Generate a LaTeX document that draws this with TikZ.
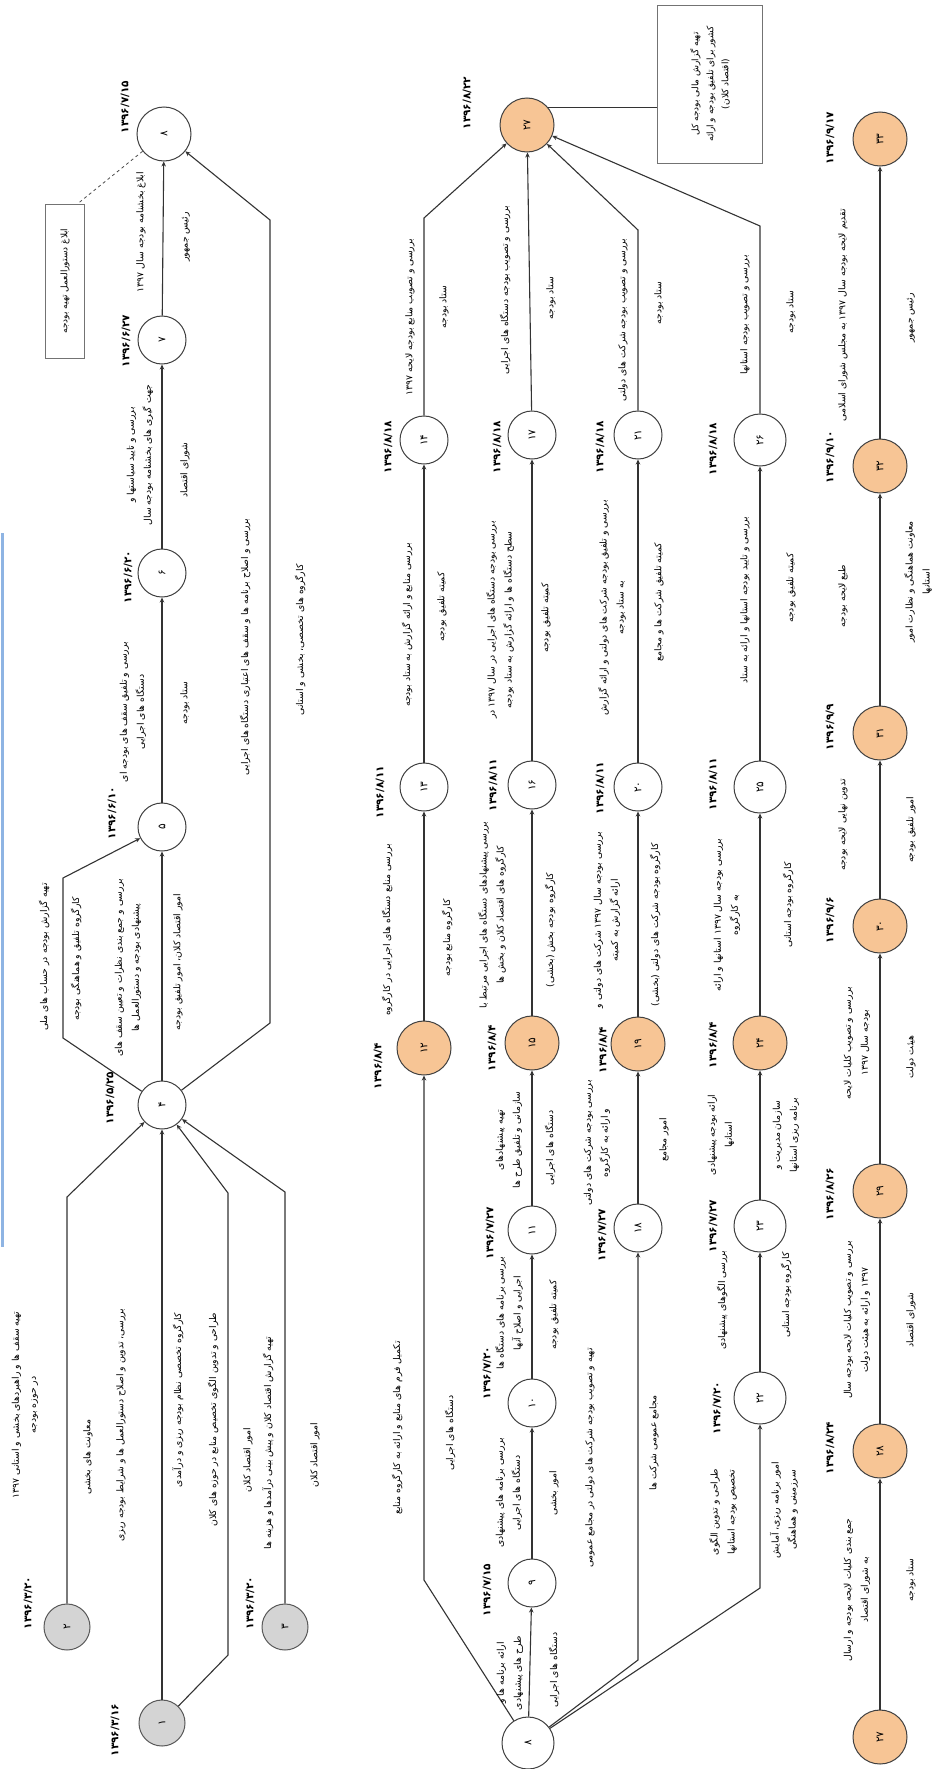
\documentclass[tikz,border=0pt]{standalone}
\usepackage{fontspec}
\usetikzlibrary{arrows.meta,calc}
\TeXXeTstate=1
\newfontfamily\fafont[Script=Arabic]{DejaVu Sans}
\newcommand{\fa}[1]{\beginR#1\endR}
\newcommand{\nm}[1]{\beginL#1\endL}
\definecolor{evorange}{HTML}{F7C595}
\definecolor{evgray}{HTML}{D4D4D4}
\definecolor{frameblue}{HTML}{8EB4E3}
\begin{document}
\begin{tikzpicture}[x=1pt,y=-1pt,
  ev/.style={circle,draw=black!75,line width=1pt,fill=white,minimum size=48pt,inner sep=0pt,rotate=90,font=\fafont\fontsize{10.5}{11}\selectfont},
  evo/.style={ev,fill=evorange,minimum size=54pt},
  evg/.style={ev,fill=evgray,minimum size=46pt,draw=black!65},
  lab/.style={rotate=90,align=center,inner sep=0pt,font=\fafont\fontsize{9.3}{17}\selectfont},
  dt/.style={rotate=90,inner sep=0pt,font=\fafont\bfseries\fontsize{10.5}{11}\selectfont},
  note/.style={draw=black!55,line width=0.6pt,rotate=90,align=center,inner sep=2pt,font=\fafont\fontsize{9}{15}\selectfont},
  flow/.style={draw=black!80,line width=1.1pt,-{Stealth[length=5pt,width=4.5pt]}}]

\fill[white] (0,0) rectangle (937,1769);
\useasboundingbox (0,0) rectangle (937,1769);
\draw[frameblue,line width=3pt] (2,533) -- (2,1247);

% ---------- events: first stage ----------
\node[evg] (n1) at (162,1723) {۱};
\node[evg] (n2) at (67,1627) {۲};
\node[evg] (n3) at (285,1627) {۳};
\node[ev] (n4) at (162,1105) {۴};
\node[ev] (n5) at (162,827) {۵};
\node[ev] (n6) at (162,573) {۶};
\node[ev] (n7) at (162,340) {۷};
\node[ev,minimum size=54pt] (n8) at (164,134) {۸};

% ---------- events: second stage ----------
\node[ev,minimum size=52pt] (n8b) at (528,1743) {۸};
\node[ev] (n9) at (532,1583) {۹};
\node[ev] (n10) at (532,1403) {۱۰};
\node[ev] (n11) at (532,1230) {۱۱};
\node[evo] (n15) at (532,1043) {۱۵};
\node[ev] (n16) at (532,785) {۱۶};
\node[ev] (n17) at (532,435) {۱۷};
\node[evo] (n27) at (527,125) {۲۷};
\node[evo] (n12) at (424,1048) {۱۲};
\node[ev] (n13) at (424,787) {۱۳};
\node[ev] (n14) at (424,440) {۱۴};
\node[ev] (n18) at (638,1228) {۱۸};
\node[evo] (n19) at (638,1044) {۱۹};
\node[ev] (n20) at (638,787) {۲۰};
\node[ev] (n21) at (638,435) {۲۱};
\node[ev,minimum size=52pt] (n22) at (760,1398) {۲۲};
\node[ev,minimum size=52pt] (n23) at (760,1226) {۲۳};
\node[evo] (n24) at (760,1043) {۲۴};
\node[ev,minimum size=52pt] (n25) at (760,787) {۲۵};
\node[ev,minimum size=52pt] (n26) at (760,440) {۲۶};

% ---------- events: third stage ----------
\node[evo] (n27b) at (880,1737) {۲۷};
\node[evo] (n28) at (880,1451) {۲۸};
\node[evo] (n29) at (880,1191) {۲۹};
\node[evo] (n30) at (880,926) {۳۰};
\node[evo] (n31) at (880,733) {۳۱};
\node[evo] (n32) at (880,466) {۳۲};
\node[evo] (n33) at (880,139) {۳۳};

% ---------- dates ----------
\node[dt] (d1) at (115,1730) {۱۳۹۶/۳/۱۶};
\node[dt] (d2) at (28,1603) {۱۳۹۶/۳/۲۰};
\node[dt] (d3) at (250,1603) {۱۳۹۶/۳/۲۰};
\node[dt] (d4) at (110,1098) {۱۳۹۶/۵/۲۵};
\node[dt] (d5) at (112,813) {۱۳۹۶/۶/۱۰};
\node[dt] (d6) at (128,577) {۱۳۹۶/۶/۲۰};
\node[dt] (d7) at (126,341) {۱۳۹۶/۶/۲۷};
\node[dt] (d8) at (125,107) {۱۳۹۶/۷/۱۵};
\node[dt] (d9) at (487,1590) {۱۳۹۶/۷/۱۵};
\node[dt] (d10) at (487,1373) {۱۳۹۶/۷/۲۰};
\node[dt] (d11) at (490,1233) {۱۳۹۶/۷/۲۷};
\node[dt] (d12) at (378,1066) {۱۳۹۶/۸/۴};
\node[dt] (d13) at (380,792) {۱۳۹۶/۸/۱۱};
\node[dt] (d14) at (388,447) {۱۳۹۶/۸/۱۸};
\node[dt] (d15) at (492,1048) {۱۳۹۶/۸/۴};
\node[dt] (d16) at (493,785) {۱۳۹۶/۸/۱۱};
\node[dt] (d17) at (497,447) {۱۳۹۶/۸/۱۸};
\node[dt] (d18) at (602,1235) {۱۳۹۶/۷/۲۷};
\node[dt] (d19) at (603,1050) {۱۳۹۶/۸/۴};
\node[dt] (d20) at (600,788) {۱۳۹۶/۸/۱۱};
\node[dt] (d21) at (600,447) {۱۳۹۶/۸/۱۸};
\node[dt] (d22) at (717,1408) {۱۳۹۶/۷/۲۰};
\node[dt] (d23) at (713,1226) {۱۳۹۶/۷/۲۷};
\node[dt] (d24) at (713,1045) {۱۳۹۶/۸/۴};
\node[dt] (d25) at (713,784) {۱۳۹۶/۸/۱۱};
\node[dt] (d26) at (713,449) {۱۳۹۶/۸/۱۸};
\node[dt] (d27) at (467,103) {۱۳۹۶/۸/۲۲};
\node[dt] (d28) at (830,1448) {۱۳۹۶/۸/۲۴};
\node[dt] (d29) at (830,1194) {۱۳۹۶/۸/۲۶};
\node[dt] (d30) at (830,920) {۱۳۹۶/۹/۶};
\node[dt] (d31) at (830,727) {۱۳۹۶/۹/۹};
\node[dt] (d32) at (830,457) {۱۳۹۶/۹/۱۰};
\node[dt] (d33) at (830,138) {۱۳۹۶/۹/۱۷};

% ---------- notes ----------
\node[note,minimum width=154pt,minimum height=39pt] (box8) at (65,281) {\fa{ابلاغ دستورالعمل تهیه بودجه}};
\node[note,minimum width=158pt,minimum height=105pt] (box27) at (710,84)
  {\fa{تهیه گزارش مالی بودجه کل}\\\fa{کشور برای تلفیق بودجه و ارائه}\\\fa{(اقتصاد کلان)}};

% ---------- bend points ----------
\coordinate (k1a) at (228,1655);
\coordinate (k1b) at (228,1193);
\coordinate (k2) at (67,1197);
\coordinate (k3) at (285,1192);
\coordinate (k45a) at (63,1038);
\coordinate (k45b) at (63,878);
\coordinate (k48a) at (270,1023);
\coordinate (k48b) at (270,220);
\coordinate (c12) at (424,1580);
\coordinate (c18) at (638,1660);
\coordinate (c22) at (760,1588);
\coordinate (c14) at (424,218);
\coordinate (c21) at (638,230);
\coordinate (c26) at (760,226);

% ---------- activities: first stage ----------
\draw[flow] (n1) -- (n4);
\draw[flow] (n1) -- (k1a) -- (k1b) -- (n4);
\draw[flow] (n2) -- (k2) -- (n4);
\draw[flow] (n3) -- (k3) -- (n4);
\draw[flow] (n4) -- (n5);
\draw[flow] (n4) -- (k45a) -- (k45b) -- (n5);
\draw[flow] (n4) -- (k48a) -- (k48b) -- (n8);
\draw[flow] (n5) -- (n6);
\draw[flow] (n6) -- (n7);
\draw[flow] (n7) -- (n8);
\draw[black!70,line width=0.8pt,dashed] (n8) -- ($(box8.south east)!0.18!(box8.north east)$);

% ---------- activities: second stage ----------
\draw[flow] (n8b) -- (c12) -- (n12);
\draw[flow] (n8b) -- (n9);
\draw[flow] (n8b) -- (c18) -- (n18);
\draw[flow] (n8b) -- (c22) -- (n22);
\draw[flow] (n9) -- (n10);
\draw[flow] (n10) -- (n11);
\draw[flow] (n11) -- (n15);
\draw[flow] (n15) -- (n16);
\draw[flow] (n16) -- (n17);
\draw[flow] (n17) -- (n27);
\draw[flow] (n12) -- (n13);
\draw[flow] (n13) -- (n14);
\draw[flow] (n14) -- (c14) -- (n27);
\draw[flow] (n18) -- (n19);
\draw[flow] (n19) -- (n20);
\draw[flow] (n20) -- (n21);
\draw[flow] (n21) -- (c21) -- (n27);
\draw[flow] (n22) -- (n23);
\draw[flow] (n23) -- (n24);
\draw[flow] (n24) -- (n25);
\draw[flow] (n25) -- (n26);
\draw[flow] (n26) -- (c26) -- (n27);
\draw[black!80,line width=1.1pt] (n27.-51) -- (n27.-51 -| box27.north);

% ---------- activities: third stage ----------
\draw[flow] (n27b) -- (n28);
\draw[flow] (n28) -- (n29);
\draw[flow] (n29) -- (n30);
\draw[flow] (n30) -- (n31);
\draw[flow] (n31) -- (n32);
\draw[flow] (n32) -- (n33);

% ---------- activity labels: first stage ----------
\node[lab] (t78a) at (141,232) {\fa{ابلاغ بخشنامه بودجه سال \nm{۱۳۹۷}}};
\node[lab] (t78b) at (186,237) {\fa{رئیس جمهور}};
\node[lab] (t67a) at (140,455) {\fa{بررسی و تایید سیاستها و}\\\fa{جهت گیری های بخشنامه بودجه سال}};
\node[lab] (t67b) at (185,470) {\fa{شورای اقتصاد}};
\node[lab] (t56a) at (133,712) {\fa{بررسی و تلفیق سقف های بودجه ای}\\\fa{دستگاه های اجرایی}};
\node[lab] (t56b) at (185,703) {\fa{ستاد بودجه}};
\node[lab] (t48a) at (245,647) {\fa{بررسی و اصلاح برنامه ها و سقف های اعتباری دستگاه های اجرایی}};
\node[lab] (t48b) at (300,640) {\fa{کارگروه های تخصصی، بخشی و استانی}};
\node[lab] (t45a) at (44,957) {\fa{تهیه گزارش بودجه در حساب های ملی}};
\node[lab] (t45b) at (76,959) {\fa{کارگروه تلفیق و هماهنگی بودجه}};
\node[lab] (t45c) at (128,968) {\fa{بررسی و جمع بندی نظرات و تعیین سقف های}\\\fa{پیشنهادی بودجه و دستورالعمل ها}};
\node[lab] (t45d) at (178,962) {\fa{امور اقتصاد کلان، امور تلفیق بودجه}};
\node[lab] (t24a) at (25,1405) {\fa{تهیه سقف ها و راهبردهای بخشی و استانی \nm{۱۳۹۷}}\\\fa{در حوزه بودجه}};
\node[lab] (t24b) at (88,1457) {\fa{معاونت های بخشی}};
\node[lab] (t14a) at (121,1425) {\fa{بررسی، تدوین و اصلاح دستورالعمل ها و شرایط بودجه ریزی}};
\node[lab] (t14b) at (178,1400) {\fa{کارگروه تخصصی نظام بودجه ریزی و درآمدی}};
\node[lab] (t14c) at (213,1420) {\fa{طراحی و تدوین الگوی تخصیص منابع در حوزه های کلان}};
\node[lab] (t14d) at (248,1460) {\fa{امور اقتصاد کلان}};
\node[lab] (t34a) at (268,1443) {\fa{تهیه گزارش اقتصاد کلان و پیش بینی درآمدها و هزینه ها}};
\node[lab] (t34b) at (315,1455) {\fa{امور اقتصاد کلان}};

% ---------- activity labels: second stage ----------
\node[lab] (u1a) at (397,1428) {\fa{تکمیل فرم های منابع و ارائه به کارگروه منابع}};
\node[lab] (u1b) at (450,1433) {\fa{دستگاه های اجرایی}};
\node[lab] (u2a) at (387,930) {\fa{بررسی منابع دستگاه های اجرایی در کارگروه}};
\node[lab] (u2b) at (447,938) {\fa{کارگروه منابع بودجه}};
\node[lab] (u3a) at (407,625) {\fa{بررسی منابع و ارائه گزارش به ستاد بودجه}};
\node[lab] (u3b) at (442,607) {\fa{کمیته تلفیق بودجه}};
\node[lab] (u4a) at (410,317) {\fa{بررسی و تصویب منابع بودجه لایحه \nm{۱۳۹۷}}};
\node[lab] (u4b) at (444,307) {\fa{ستاد بودجه}};
\node[lab] (v1a) at (510,1673) {\fa{ارائه برنامه ها و}\\\fa{طرح های پیشنهادی}};
\node[lab] (v1b) at (554,1670) {\fa{دستگاه های اجرایی}};
\node[lab] (v2a) at (509,1493) {\fa{بررسی برنامه های پیشنهادی}\\\fa{دستگاه های اجرایی}};
\node[lab] (v2b) at (554,1493) {\fa{امور بخشی}};
\node[lab] (v3a) at (509,1313) {\fa{بررسی برنامه های دستگاه ها}\\\fa{اجرایی و اصلاح آنها}};
\node[lab] (v3b) at (554,1315) {\fa{کمیته تلفیق بودجه}};
\node[lab] (v4a) at (509,1140) {\fa{تهیه پیشنهادهای}\\\fa{سازمانی و تلفیق طرح ها}};
\node[lab] (v4b) at (550,1148) {\fa{دستگاه های اجرایی}};
\node[lab] (v5a) at (492,915) {\fa{بررسی پیشنهادهای دستگاه های اجرایی مرتبط با}\\\fa{کارگروه های اقتصاد کلان و بخش ها}};
\node[lab] (v5b) at (550,930) {\fa{کارگروه بودجه بخش (بخشی)}};
\node[lab] (v6a) at (500,620) {\fa{بررسی بودجه دستگاه های اجرایی در سال \nm{۱۳۹۷} در}\\\fa{سطح دستگاه ها و ارائه گزارش به ستاد بودجه}};
\node[lab] (v6b) at (546,618) {\fa{کمیته تلفیق بودجه}};
\node[lab] (v7a) at (505,290) {\fa{بررسی و تصویب بودجه دستگاه های اجرایی}};
\node[lab] (v7b) at (551,298) {\fa{ستاد بودجه}};
\node[lab] (w1a) at (590,1458) {\fa{تهیه و تصویب بودجه شرکت های دولتی در مجامع عمومی}};
\node[lab] (w1b) at (654,1443) {\fa{مجامع عمومی شرکت ها}};
\node[lab] (w2a) at (597,1143) {\fa{بررسی بودجه شرکت های دولتی}\\\fa{و ارائه به کارگروه}};
\node[lab] (w2b) at (664,1140) {\fa{امور مجامع}};
\node[lab] (w3a) at (607,920) {\fa{بررسی بودجه سال \nm{۱۳۹۷} شرکت های دولتی و}\\\fa{ارائه گزارش به کمیته}};
\node[lab] (w3b) at (655,925) {\fa{کارگروه بودجه شرکت های دولتی (بخشی)}};
\node[lab] (w4a) at (612,608) {\fa{بررسی و تلفیق بودجه شرکت های دولتی و ارائه گزارش}\\\fa{به ستاد بودجه}};
\node[lab] (w4b) at (659,602) {\fa{کمیته تلفیق شرکت ها و مجامع}};
\node[lab] (w5a) at (623,320) {\fa{بررسی و تصویب بودجه شرکت های دولتی}};
\node[lab] (w5b) at (659,303) {\fa{ستاد بودجه}};
\node[lab] (x1a) at (723,1512) {\fa{طراحی و تدوین الگوی}\\\fa{تخصیص بودجه استانها}};
\node[lab] (x1b) at (784,1510) {\fa{امور برنامه ریزی، آمایش}\\\fa{سرزمینی و هماهنگی}};
\node[lab] (x2a) at (722,1300) {\fa{بررسی الگوهای پیشنهادی}};
\node[lab] (x2b) at (786,1295) {\fa{کارگروه بودجه استانی}};
\node[lab] (x3a) at (721,1135) {\fa{ارائه بودجه پیشنهادی}\\\fa{استانها}};
\node[lab] (x3b) at (786,1135) {\fa{سازمان مدیریت و}\\\fa{برنامه ریزی استانها}};
\node[lab] (x4a) at (727,915) {\fa{بررسی بودجه سال \nm{۱۳۹۷} استانها و ارائه}\\\fa{به کارگروه}};
\node[lab] (x4b) at (788,905) {\fa{کارگروه بودجه استانی}};
\node[lab] (x5a) at (745,600) {\fa{بررسی و تایید بودجه استانها و ارائه به ستاد}};
\node[lab] (x5b) at (791,588) {\fa{کمیته تلفیق بودجه}};
\node[lab] (x6a) at (745,315) {\fa{بررسی و تصویب بودجه استانها}};
\node[lab] (x6b) at (791,312) {\fa{ستاد بودجه}};

% ---------- activity labels: third stage ----------
\node[lab] (y1a) at (857,1590) {\fa{جمع بندی کلیات لایحه بودجه و ارسال}\\\fa{به شورای اقتصاد}};
\node[lab] (y1b) at (911,1580) {\fa{ستاد بودجه}};
\node[lab] (y2a) at (857,1320) {\fa{بررسی و تصویب کلیات لایحه بودجه سال}\\\fa{\nm{۱۳۹۷} و ارائه به هیئت دولت}};
\node[lab] (y2b) at (911,1320) {\fa{شورای اقتصاد}};
\node[lab] (y3a) at (857,1043) {\fa{بررسی و تصویب کلیات لایحه}\\\fa{بودجه سال \nm{۱۳۹۷}}};
\node[lab] (y3b) at (911,1057) {\fa{هیئت دولت}};
\node[lab] (y4a) at (843,825) {\fa{تدوین نهایی لایحه بودجه}};
\node[lab] (y4b) at (911,830) {\fa{امور تلفیق بودجه}};
\node[lab] (y5a) at (843,596) {\fa{طبع لایحه بودجه}};
\node[lab] (y5b) at (918,582) {\fa{معاونت هماهنگی و نظارت امور}\\\fa{استانها}};
\node[lab] (y6a) at (843,315) {\fa{تقدیم لایحه بودجه سال \nm{۱۳۹۷} به مجلس شورای اسلامی}};
\node[lab] (y6b) at (911,318) {\fa{رئیس جمهور}};
\end{tikzpicture}
\end{document}
